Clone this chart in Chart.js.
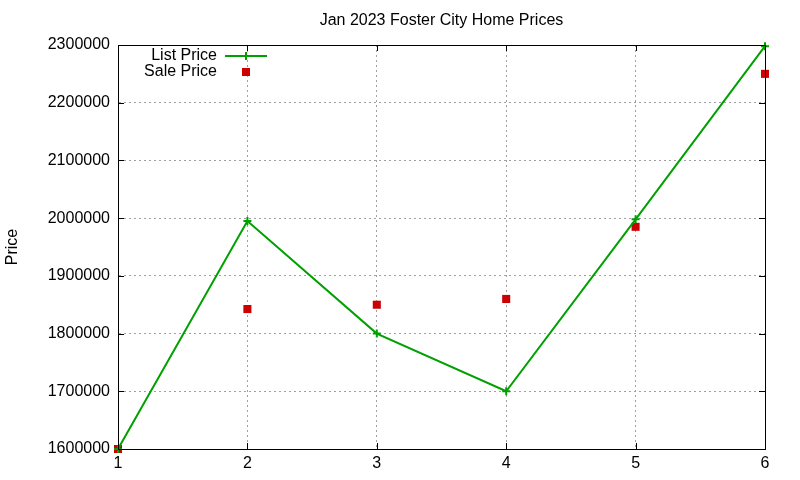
<!DOCTYPE html>
<html>
<head>
<meta charset="utf-8">
<script src="https://cdn.jsdelivr.net/npm/chart.js@4.4.0/dist/chart.umd.min.js"></script>
<style>
  body { margin: 0; background: #fff; }
  #wrap { width: 800px; height: 480px; }
</style>
</head>
<body>
<div id="wrap"><canvas id="myChart" width="800" height="480"></canvas></div>
<script>
// data
var houses = [1, 2, 3, 4, 5, 6];
var listPrice = [1600000, 1995000, 1800000, 1700000, 1998000, 2298000];
var salePrice = [1600000, 1842500, 1850000, 1860000, 1985000, 2250000];
var seriesNames = ['List Price', 'Sale Price'];
var chartTitle = 'Jan 2023 Foster City Home Prices';

var FONT = '"Liberation Sans", Arial, sans-serif';
var GREEN = '#00a000';
var RED = '#cc0000';

// gnuplot-ish frame: full border, inward ticks, title over the plot, key in the top-left corner
var gnuFrame = {
  id: 'gnuFrame',
  afterDraw: function (chart) {
    var ctx = chart.ctx, a = chart.chartArea;
    var xs = chart.scales.x, ys = chart.scales.y;
    ctx.save();
    ctx.strokeStyle = '#000';
    ctx.lineWidth = 1;
    ctx.strokeRect(a.left + 0.5, a.top + 0.5, a.right - a.left, a.bottom - a.top);
    ctx.beginPath();
    xs.ticks.forEach(function (t) {
      var px = Math.round(xs.getPixelForValue(t.value)) + 0.5;
      ctx.moveTo(px, a.bottom); ctx.lineTo(px, a.bottom - 6);
      ctx.moveTo(px, a.top); ctx.lineTo(px, a.top + 6);
    });
    ys.ticks.forEach(function (t) {
      var py = Math.round(ys.getPixelForValue(t.value)) + 0.5;
      ctx.moveTo(a.left, py); ctx.lineTo(a.left + 6, py);
      ctx.moveTo(a.right, py); ctx.lineTo(a.right - 6, py);
    });
    ctx.stroke();

    ctx.font = '16px ' + FONT;
    ctx.fillStyle = '#000';
    ctx.textBaseline = 'middle';

    // title, centred on the plot area
    ctx.textAlign = 'center';
    ctx.fillText(chartTitle, (a.left + a.right) / 2, 21);

    // key
    ctx.textAlign = 'right';
    ctx.fillText(seriesNames[0], 217, 56);
    ctx.fillText(seriesNames[1], 217, 72);
    ctx.strokeStyle = GREEN;
    ctx.lineWidth = 2;
    ctx.beginPath();
    ctx.moveTo(225, 56); ctx.lineTo(267, 56);
    ctx.moveTo(246, 52); ctx.lineTo(246, 60);
    ctx.stroke();
    ctx.fillStyle = RED;
    ctx.fillRect(242, 68, 8, 8);
    ctx.restore();
  }
};

const myChartRef = document.getElementById('myChart').getContext('2d');
new Chart(myChartRef, {
  type: 'line',
  data: {
    datasets: [
      {
        label: seriesNames[0],
        data: houses.map(function (h, i) { return {x: h, y: listPrice[i]}; }),
        borderColor: GREEN,
        backgroundColor: GREEN,
        borderWidth: 2,
        pointStyle: 'cross',
        pointRadius: 4,
        pointBorderWidth: 2,
        pointBorderColor: GREEN,
        tension: 0,
        clip: false
      },
      {
        label: seriesNames[1],
        data: houses.map(function (h, i) { return {x: h, y: salePrice[i]}; }),
        showLine: false,
        pointStyle: 'rect',
        pointRadius: 5.7,
        pointBorderWidth: 0,
        pointBackgroundColor: RED,
        borderColor: RED,
        backgroundColor: RED,
        clip: false
      }
    ]
  },
  options: {
    responsive: false,
    animation: false,
    devicePixelRatio: 1,
    layout: { padding: { right: 35, left: 0, bottom: 0, top: 45 } },
    plugins: {
      legend: { display: false },
      tooltip: { enabled: false },
      title: { display: false }
    },
    scales: {
      x: {
        type: 'linear',
        min: 1,
        max: 6,
        afterFit: function (s) { s.height = 31; },
        ticks: {
          stepSize: 1,
          color: '#000',
          padding: 5,
          maxRotation: 0,
          font: { family: FONT, size: 16 }
        },
        grid: { color: '#a0a0a0', drawTicks: false, lineWidth: 1 },
        border: { display: true, color: '#000', dash: [2, 3] }
      },
      y: {
        type: 'linear',
        min: 1600000,
        max: 2300000,
        afterFit: function (s) { s.width = 118; },
        ticks: {
          stepSize: 100000,
          color: '#000',
          padding: 8,
          font: { family: FONT, size: 16 },
          callback: function (v) { return String(v); }
        },
        grid: { color: '#a0a0a0', drawTicks: false, lineWidth: 1 },
        border: { display: true, color: '#000', dash: [2, 3] },
        title: {
          display: true,
          text: 'Price',
          color: '#000',
          font: { family: FONT, size: 16 },
          padding: { top: 3, bottom: 0 }
        }
      }
    }
  },
  plugins: [gnuFrame]
});
</script>
</body>
</html>
